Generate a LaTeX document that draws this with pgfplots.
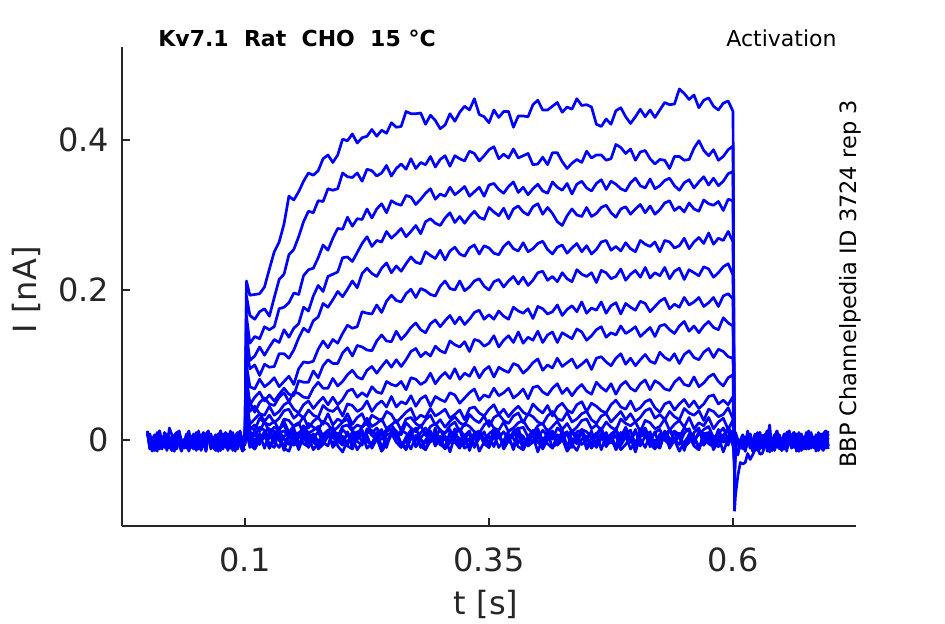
\documentclass[border=0pt]{standalone}
\usepackage{pgfplots}
\pgfplotsset{compat=1.18}
\usepackage{pgfplotstable}
\usepackage{fontspec}
\setmainfont{DejaVu Sans}
\setsansfont{DejaVu Sans}
\definecolor{axgray}{RGB}{38,38,38}

\pgfplotstableread[row sep=\\]{
t A B C D E F G H I J K L M N O P Q\\
0.100 0.002 -0.004 0.005 -0.006 0.001 0.003 -0.002 0.006 -0.005 0.000 0.004 -0.003 0.002 -0.006 0.005 -0.001 0.003\\
0.1015 0.212 0.192 0.165 0.142 0.122 0.100 0.085 0.075 0.065 0.055 0.048 0.042 0.036 0.030 0.025 0.020 0.018\\
0.105 0.193 0.166 0.129 0.106 0.095 0.071 0.047 0.050 0.038 0.021 0.017 0.015 0.009 0.006 0.003 -0.006 0.013\\
0.110 0.194 0.161 0.138 0.112 0.100 0.068 0.057 0.037 0.045 0.028 0.013 0.020 0.005 0.011 -0.012 -0.012 -0.006\\
0.115 0.195 0.171 0.135 0.124 0.086 0.081 0.064 0.050 0.035 0.035 0.029 0.011 0.017 -0.002 0.000 0.003 0.000\\
0.120 0.204 0.175 0.151 0.113 0.101 0.071 0.052 0.056 0.033 0.025 0.023 0.025 0.013 0.003 0.009 0.009 0.011\\
0.125 0.228 0.165 0.147 0.124 0.097 0.076 0.060 0.048 0.045 0.033 0.020 0.010 0.002 0.009 -0.005 -0.011 0.015\\
0.130 0.251 0.190 0.151 0.134 0.098 0.083 0.052 0.046 0.033 0.023 0.025 0.017 0.008 -0.004 -0.010 0.006 -0.002\\
0.135 0.264 0.214 0.175 0.130 0.115 0.071 0.061 0.057 0.038 0.029 0.013 0.013 0.015 0.010 0.012 0.000 -0.010\\
0.140 0.288 0.221 0.177 0.147 0.115 0.078 0.069 0.063 0.047 0.039 0.028 0.025 0.020 0.012 0.002 -0.011 0.005\\
0.145 0.325 0.247 0.183 0.137 0.109 0.085 0.061 0.051 0.051 0.041 0.026 0.010 0.005 0.004 -0.006 -0.015 0.009\\
0.150 0.320 0.254 0.196 0.149 0.120 0.074 0.059 0.064 0.041 0.029 0.018 0.019 0.011 -0.001 0.008 0.002 -0.007\\
0.155 0.331 0.271 0.194 0.155 0.136 0.095 0.079 0.062 0.036 0.035 0.021 0.023 0.007 0.008 -0.013 0.010 0.003\\
0.160 0.345 0.291 0.219 0.177 0.149 0.104 0.077 0.057 0.047 0.029 0.031 0.008 0.019 0.014 0.005 -0.005 0.012\\
0.165 0.356 0.305 0.227 0.172 0.144 0.103 0.077 0.056 0.052 0.040 0.016 0.022 0.009 0.001 0.010 -0.009 -0.005\\
0.170 0.353 0.303 0.229 0.192 0.159 0.105 0.092 0.069 0.042 0.033 0.025 0.017 0.013 0.008 -0.003 0.007 0.008\\
0.175 0.359 0.319 0.243 0.206 0.164 0.121 0.083 0.077 0.050 0.030 0.030 0.013 0.018 -0.002 -0.009 -0.012 -0.009\\
0.180 0.375 0.318 0.260 0.198 0.182 0.132 0.099 0.069 0.057 0.046 0.021 0.025 0.005 0.006 0.006 -0.006 0.000\\
0.185 0.380 0.335 0.253 0.218 0.177 0.123 0.107 0.069 0.047 0.040 0.035 0.021 0.010 0.012 0.012 0.005 0.013\\
0.190 0.370 0.333 0.269 0.221 0.187 0.134 0.102 0.082 0.057 0.038 0.020 0.011 0.017 0.003 -0.008 0.009 0.016\\
0.195 0.380 0.335 0.282 0.224 0.198 0.129 0.102 0.072 0.047 0.044 0.028 0.017 0.004 -0.001 0.009 -0.008 -0.003\\
0.200 0.401 0.356 0.281 0.243 0.191 0.142 0.116 0.078 0.054 0.032 0.024 0.024 0.018 0.014 0.003 -0.016 0.005\\
0.205 0.399 0.351 0.297 0.244 0.201 0.153 0.123 0.087 0.065 0.048 0.035 0.028 0.020 0.007 -0.008 -0.001 -0.006\\
0.210 0.408 0.350 0.285 0.238 0.212 0.149 0.112 0.093 0.068 0.046 0.021 0.014 0.012 0.002 -0.012 0.003 0.011\\
0.215 0.396 0.356 0.295 0.250 0.203 0.151 0.126 0.084 0.057 0.038 0.030 0.020 0.008 0.011 0.005 -0.013 -0.002\\
0.220 0.403 0.345 0.294 0.262 0.222 0.171 0.124 0.081 0.063 0.042 0.035 0.017 0.017 -0.003 0.013 -0.003 -0.007\\
0.225 0.405 0.361 0.308 0.271 0.229 0.169 0.120 0.093 0.058 0.052 0.020 0.029 0.023 0.009 -0.002 0.006 0.015\\
0.230 0.414 0.359 0.296 0.258 0.222 0.168 0.119 0.098 0.071 0.038 0.033 0.018 0.009 0.013 -0.006 -0.011 0.006\\
0.235 0.405 0.352 0.308 0.266 0.218 0.180 0.132 0.089 0.064 0.047 0.029 0.022 0.016 0.004 0.010 0.002 0.001\\
0.240 0.413 0.356 0.315 0.264 0.229 0.170 0.140 0.098 0.062 0.052 0.025 0.028 0.006 0.001 -0.009 -0.015 0.009\\
0.245 0.409 0.366 0.303 0.278 0.236 0.185 0.132 0.106 0.078 0.044 0.038 0.015 0.014 0.011 -0.003 -0.006 -0.010\\
0.250 0.423 0.352 0.319 0.269 0.223 0.193 0.131 0.097 0.074 0.058 0.034 0.020 0.020 0.015 0.008 0.007 0.012\\
0.255 0.417 0.362 0.315 0.275 0.232 0.186 0.145 0.107 0.072 0.044 0.023 0.026 0.011 0.002 0.012 0.010 0.008\\
0.260 0.418 0.368 0.313 0.282 0.225 0.184 0.134 0.098 0.078 0.051 0.030 0.013 0.007 0.013 -0.005 -0.009 -0.005\\
0.265 0.438 0.361 0.326 0.271 0.235 0.195 0.141 0.107 0.067 0.048 0.037 0.028 0.023 0.009 -0.013 -0.001 0.000\\
0.270 0.435 0.375 0.324 0.278 0.244 0.201 0.150 0.118 0.083 0.059 0.042 0.030 0.016 0.002 0.002 -0.012 0.013\\
0.275 0.435 0.362 0.314 0.286 0.237 0.190 0.156 0.122 0.081 0.045 0.027 0.022 0.011 -0.001 0.006 0.005 -0.009\\
0.280 0.436 0.370 0.321 0.275 0.235 0.202 0.147 0.111 0.074 0.055 0.033 0.017 0.020 0.010 -0.010 -0.008 0.003\\
0.285 0.421 0.367 0.329 0.291 0.251 0.199 0.143 0.117 0.078 0.059 0.030 0.027 0.006 0.016 0.000 -0.013 0.011\\
0.290 0.433 0.378 0.335 0.295 0.246 0.194 0.155 0.112 0.089 0.045 0.042 0.033 0.018 0.006 0.009 0.009 -0.003\\
0.295 0.426 0.364 0.321 0.289 0.242 0.192 0.160 0.125 0.075 0.058 0.032 0.020 0.022 0.003 -0.008 0.000 0.016\\
0.300 0.415 0.374 0.328 0.286 0.253 0.205 0.151 0.119 0.084 0.054 0.036 0.027 0.013 0.014 0.005 -0.005 -0.006\\
0.305 0.420 0.379 0.325 0.296 0.240 0.212 0.159 0.116 0.090 0.051 0.041 0.017 0.009 0.001 -0.012 0.003 0.005\\
0.310 0.435 0.365 0.337 0.303 0.252 0.202 0.166 0.132 0.082 0.063 0.029 0.025 0.019 0.005 -0.003 -0.016 -0.002\\
0.315 0.425 0.379 0.327 0.290 0.257 0.200 0.155 0.127 0.095 0.060 0.034 0.031 0.024 0.012 0.010 0.006 0.015\\
0.320 0.437 0.375 0.332 0.298 0.248 0.212 0.164 0.124 0.081 0.049 0.040 0.023 0.011 0.015 0.013 0.002 -0.007\\
0.325 0.445 0.372 0.338 0.289 0.245 0.199 0.154 0.131 0.089 0.056 0.027 0.019 0.022 0.004 -0.006 -0.011 0.006\\
0.330 0.440 0.385 0.325 0.298 0.256 0.204 0.161 0.118 0.085 0.063 0.042 0.034 0.018 -0.001 0.002 -0.006 0.012\\
0.335 0.455 0.382 0.331 0.305 0.260 0.212 0.170 0.134 0.097 0.068 0.044 0.027 0.011 0.009 -0.009 0.007 -0.010\\
0.340 0.434 0.372 0.337 0.297 0.248 0.215 0.173 0.132 0.083 0.053 0.036 0.023 0.009 0.012 0.008 -0.015 0.009\\
0.345 0.431 0.379 0.325 0.294 0.259 0.205 0.161 0.125 0.093 0.060 0.032 0.032 0.020 0.001 -0.005 -0.003 0.001\\
0.350 0.423 0.387 0.340 0.310 0.256 0.200 0.167 0.129 0.098 0.057 0.041 0.018 0.026 0.008 -0.010 0.005 -0.005\\
0.355 0.440 0.391 0.342 0.304 0.249 0.211 0.161 0.139 0.084 0.069 0.047 0.030 0.016 0.014 0.012 -0.009 0.013\\
0.360 0.430 0.375 0.334 0.299 0.247 0.214 0.172 0.124 0.097 0.059 0.034 0.034 0.013 0.003 0.003 0.010 0.008\\
0.365 0.438 0.381 0.329 0.309 0.258 0.204 0.165 0.133 0.093 0.063 0.041 0.026 0.024 0.011 -0.002 -0.012 -0.009\\
0.370 0.438 0.376 0.338 0.295 0.264 0.212 0.161 0.139 0.090 0.069 0.031 0.022 0.011 0.000 0.006 -0.001 0.000\\
0.375 0.417 0.388 0.344 0.308 0.255 0.218 0.177 0.130 0.102 0.056 0.039 0.032 0.016 0.006 -0.013 -0.008 0.011\\
0.380 0.432 0.376 0.330 0.312 0.252 0.208 0.172 0.144 0.099 0.061 0.045 0.036 0.023 0.015 0.009 0.009 0.016\\
0.385 0.432 0.379 0.337 0.304 0.263 0.217 0.169 0.129 0.089 0.068 0.037 0.023 0.026 0.017 0.005 -0.013 -0.006\\
0.390 0.431 0.382 0.327 0.300 0.251 0.206 0.175 0.137 0.095 0.055 0.033 0.035 0.015 0.004 -0.008 0.000 0.003\\
0.395 0.447 0.367 0.335 0.311 0.255 0.213 0.162 0.133 0.103 0.070 0.048 0.031 0.009 0.009 -0.003 0.006 -0.003\\
0.400 0.453 0.368 0.341 0.315 0.262 0.223 0.178 0.145 0.108 0.072 0.041 0.024 0.019 0.002 0.010 -0.016 0.015\\
0.405 0.440 0.377 0.332 0.301 0.265 0.225 0.175 0.130 0.093 0.064 0.036 0.021 0.022 0.013 -0.012 0.003 -0.002\\
0.410 0.440 0.367 0.329 0.310 0.254 0.213 0.168 0.140 0.100 0.060 0.046 0.032 0.011 0.005 0.000 -0.005 0.005\\
0.415 0.445 0.383 0.344 0.302 0.248 0.218 0.171 0.144 0.096 0.069 0.032 0.038 0.018 0.001 0.008 -0.011 0.012\\
0.420 0.450 0.383 0.337 0.291 0.257 0.211 0.180 0.130 0.109 0.075 0.044 0.028 0.025 0.016 -0.006 0.007 -0.007\\
0.425 0.437 0.371 0.333 0.286 0.260 0.223 0.166 0.143 0.098 0.062 0.049 0.026 0.014 0.010 0.013 0.002 0.000\\
0.430 0.444 0.362 0.342 0.299 0.249 0.215 0.174 0.139 0.103 0.069 0.040 0.037 0.022 0.007 -0.009 -0.015 0.009\\
0.435 0.441 0.369 0.328 0.308 0.256 0.211 0.179 0.135 0.108 0.059 0.036 0.024 0.011 0.012 0.002 -0.006 -0.010\\
0.440 0.455 0.374 0.341 0.300 0.262 0.227 0.171 0.148 0.096 0.068 0.047 0.028 0.017 -0.001 -0.005 0.005 0.011\\
0.445 0.446 0.370 0.345 0.298 0.251 0.221 0.184 0.144 0.101 0.074 0.051 0.035 0.026 0.014 0.012 0.010 0.013\\
0.450 0.447 0.385 0.336 0.310 0.259 0.218 0.169 0.133 0.107 0.065 0.038 0.038 0.028 0.011 -0.010 -0.012 0.001\\
0.455 0.444 0.376 0.332 0.298 0.248 0.223 0.176 0.139 0.094 0.061 0.049 0.027 0.015 0.003 0.003 -0.003 -0.006\\
0.460 0.421 0.380 0.342 0.302 0.254 0.210 0.173 0.147 0.109 0.077 0.045 0.022 0.020 0.006 0.009 -0.009 0.008\\
0.465 0.418 0.380 0.347 0.310 0.264 0.226 0.184 0.151 0.111 0.070 0.039 0.032 0.013 0.015 -0.013 0.009 0.016\\
0.470 0.428 0.373 0.334 0.313 0.266 0.223 0.169 0.137 0.104 0.065 0.036 0.035 0.024 0.000 0.006 -0.008 -0.005\\
0.475 0.421 0.375 0.345 0.303 0.253 0.215 0.179 0.143 0.099 0.075 0.047 0.024 0.017 0.008 -0.002 -0.001 0.006\\
0.480 0.439 0.394 0.341 0.297 0.258 0.218 0.183 0.140 0.109 0.061 0.053 0.031 0.013 0.013 -0.008 0.006 -0.009\\
0.485 0.443 0.390 0.335 0.308 0.252 0.228 0.168 0.152 0.115 0.073 0.044 0.038 0.028 0.004 0.010 -0.013 0.003\\
0.490 0.431 0.382 0.332 0.311 0.263 0.213 0.182 0.142 0.101 0.078 0.041 0.027 0.022 0.017 0.005 -0.006 0.012\\
0.495 0.422 0.388 0.343 0.301 0.255 0.221 0.177 0.146 0.109 0.069 0.052 0.035 0.019 0.002 -0.012 0.003 -0.002\\
0.500 0.431 0.373 0.349 0.308 0.251 0.226 0.173 0.151 0.099 0.065 0.039 0.024 0.024 0.009 -0.003 -0.016 -0.007\\
0.505 0.441 0.384 0.339 0.314 0.266 0.217 0.185 0.138 0.107 0.075 0.043 0.030 0.011 0.005 0.008 0.005 0.015\\
0.510 0.431 0.386 0.336 0.303 0.261 0.230 0.182 0.144 0.114 0.080 0.051 0.039 0.026 0.016 0.013 0.007 0.005\\
0.515 0.440 0.375 0.348 0.312 0.258 0.216 0.171 0.150 0.105 0.067 0.054 0.042 0.023 0.001 -0.009 -0.005 -0.003\\
0.520 0.430 0.368 0.335 0.301 0.264 0.223 0.178 0.138 0.102 0.079 0.043 0.029 0.015 0.010 0.000 -0.012 0.011\\
0.525 0.440 0.374 0.339 0.307 0.251 0.219 0.185 0.152 0.117 0.075 0.037 0.034 0.018 0.014 -0.006 0.002 -0.010\\
0.530 0.450 0.373 0.346 0.316 0.266 0.230 0.189 0.154 0.110 0.068 0.048 0.027 0.028 0.000 0.012 0.010 0.008\\
0.535 0.447 0.362 0.349 0.319 0.264 0.215 0.175 0.147 0.106 0.066 0.051 0.038 0.013 0.013 -0.005 -0.011 0.013\\
0.540 0.448 0.378 0.339 0.306 0.256 0.225 0.181 0.142 0.115 0.077 0.040 0.031 0.021 0.008 0.002 0.000 0.000\\
0.545 0.468 0.378 0.333 0.311 0.259 0.229 0.177 0.152 0.102 0.083 0.048 0.027 0.026 0.004 0.009 -0.015 -0.006\\
0.550 0.462 0.373 0.343 0.304 0.269 0.214 0.190 0.158 0.114 0.074 0.054 0.042 0.017 0.016 -0.010 -0.003 0.009\\
0.555 0.454 0.374 0.347 0.316 0.255 0.227 0.180 0.145 0.119 0.072 0.044 0.036 0.030 0.012 -0.003 0.006 0.015\\
0.560 0.460 0.389 0.336 0.308 0.264 0.223 0.184 0.152 0.110 0.084 0.052 0.033 0.015 0.001 0.006 -0.008 -0.005\\
0.565 0.443 0.399 0.344 0.305 0.270 0.219 0.190 0.143 0.107 0.071 0.042 0.039 0.023 0.007 -0.013 -0.013 0.012\\
0.570 0.453 0.386 0.351 0.320 0.262 0.231 0.178 0.152 0.117 0.076 0.048 0.026 0.019 0.014 0.008 0.009 0.006\\
0.575 0.456 0.379 0.340 0.315 0.276 0.228 0.183 0.158 0.122 0.084 0.058 0.041 0.030 0.018 0.010 -0.001 -0.005\\
0.580 0.445 0.387 0.349 0.313 0.261 0.217 0.190 0.150 0.110 0.088 0.060 0.038 0.015 0.003 -0.002 -0.009 -0.009\\
0.585 0.440 0.373 0.339 0.318 0.269 0.223 0.178 0.147 0.121 0.078 0.048 0.031 0.024 0.009 -0.009 0.005 0.008\\
0.590 0.449 0.378 0.345 0.306 0.266 0.231 0.192 0.163 0.118 0.072 0.053 0.034 0.029 0.005 0.005 -0.016 0.016\\
0.595 0.452 0.387 0.355 0.321 0.278 0.235 0.195 0.156 0.111 0.083 0.047 0.043 0.014 0.017 0.013 0.002 0.001\\
0.600 0.438 0.392 0.358 0.319 0.264 0.220 0.188 0.152 0.109 0.087 0.058 0.028 0.027 0.006 -0.008 0.007 -0.003\\
0.6015 -0.095 -0.085 -0.075 -0.068 -0.060 -0.055 -0.050 -0.045 -0.040 -0.035 -0.030 -0.028 -0.025 -0.022 -0.020 -0.018 -0.015\\
}\pulse

\pgfplotstableread[row sep=\\]{
t Y Z\\
0.100 -0.002 0.004\\
0.1015 0.015 0.012\\
0.105 -0.010 -0.008\\
0.110 0.001 -0.001\\
0.115 -0.006 0.008\\
0.120 0.011 -0.011\\
0.125 -0.011 0.010\\
0.130 0.002 0.012\\
0.135 0.008 0.000\\
0.140 -0.014 -0.007\\
0.145 0.005 0.007\\
0.150 -0.003 0.016\\
0.155 -0.009 -0.006\\
0.160 0.009 0.005\\
0.165 0.004 -0.010\\
0.170 -0.013 0.002\\
0.175 -0.004 0.011\\
0.180 0.007 -0.003\\
0.185 0.013 -0.008\\
0.190 -0.010 0.014\\
0.195 -0.001 0.004\\
0.200 -0.007 -0.004\\
0.205 0.011 0.010\\
0.210 -0.006 -0.011\\
0.215 0.001 0.007\\
0.220 0.008 0.012\\
0.225 -0.011 -0.001\\
0.230 -0.004 -0.007\\
0.235 0.005 0.008\\
0.240 -0.014 0.014\\
0.245 0.007 -0.006\\
0.250 0.009 0.011\\
0.255 -0.003 0.005\\
0.260 -0.010 -0.006\\
0.265 0.004 -0.010\\
0.270 0.013 0.007\\
0.275 -0.009 0.016\\
0.280 0.002 0.000\\
0.285 -0.013 -0.004\\
0.290 -0.001 0.012\\
0.295 0.008 -0.007\\
0.300 -0.006 -0.001\\
0.305 -0.011 0.010\\
0.310 0.011 0.014\\
0.315 0.001 -0.003\\
0.320 -0.007 -0.011\\
0.325 0.007 0.004\\
0.330 -0.014 0.008\\
0.335 0.004 -0.008\\
0.340 0.009 0.002\\
0.345 -0.004 0.011\\
0.350 -0.010 -0.006\\
0.355 0.005 0.007\\
0.360 0.011 -0.010\\
0.365 -0.009 -0.001\\
0.370 0.008 0.012\\
0.375 0.002 0.016\\
0.380 -0.009 -0.004\\
0.385 -0.013 0.004\\
0.390 0.004 -0.007\\
0.395 0.013 0.010\\
0.400 -0.003 -0.003\\
0.405 -0.007 -0.008\\
0.410 0.009 0.014\\
0.415 -0.010 0.005\\
0.420 -0.004 0.000\\
0.425 0.007 0.008\\
0.430 0.011 -0.011\\
0.435 -0.006 0.011\\
0.440 -0.014 0.007\\
0.445 0.001 -0.006\\
0.450 0.005 -0.001\\
0.455 -0.011 0.012\\
0.460 -0.001 -0.010\\
0.465 0.008 0.002\\
0.470 -0.009 0.010\\
0.475 0.004 -0.004\\
0.480 -0.013 0.016\\
0.485 -0.004 -0.007\\
0.490 0.009 0.004\\
0.495 0.013 -0.003\\
0.500 -0.007 0.014\\
0.505 0.001 -0.008\\
0.510 -0.010 0.005\\
0.515 0.007 0.011\\
0.520 -0.006 -0.011\\
0.525 -0.011 0.008\\
0.530 0.011 0.000\\
0.535 0.002 -0.006\\
0.540 -0.003 0.012\\
0.545 0.005 0.007\\
0.550 -0.014 -0.010\\
0.555 0.008 -0.001\\
0.560 0.004 0.010\\
0.565 -0.009 0.016\\
0.570 -0.004 -0.007\\
0.575 0.009 0.002\\
0.580 -0.013 -0.004\\
0.585 -0.001 0.014\\
0.590 0.007 -0.003\\
0.595 -0.007 0.004\\
0.600 0.013 0.011\\
0.6015 -0.013 -0.012\\
}\pulsez

\pgfplotstableread[row sep=\\]{
t R S U V W X\\
0.0000 0.007 0.012 0.010 0.006 0.010 0.012\\
0.0025 0.001 -0.008 -0.012 0.008 -0.007 -0.011\\
0.0050 -0.010 0.000 0.001 -0.004 -0.015 -0.002\\
0.0075 -0.014 -0.011 0.007 -0.011 0.000 -0.008\\
0.0100 0.003 0.006 -0.015 0.003 0.004 0.010\\
0.0125 0.012 -0.007 0.004 0.012 -0.012 -0.007\\
0.0150 -0.004 -0.012 -0.004 -0.010 -0.002 0.000\\
0.0175 -0.008 0.010 -0.010 0.001 0.007 0.007\\
0.0200 0.008 0.001 0.008 -0.014 -0.010 -0.012\\
0.0225 -0.011 -0.004 0.003 0.016 0.003 -0.005\\
0.0250 -0.005 0.004 -0.014 0.007 -0.014 0.004\\
0.0275 0.006 -0.015 -0.005 -0.007 -0.005 -0.015\\
0.0300 0.010 0.007 0.006 -0.012 0.008 0.006\\
0.0325 -0.007 0.003 0.012 0.010 0.012 0.008\\
0.0350 -0.015 -0.010 -0.011 0.000 -0.008 -0.004\\
0.0375 0.000 -0.005 -0.002 -0.008 0.000 -0.011\\
0.0400 0.004 0.008 -0.008 0.006 -0.011 0.003\\
0.0425 -0.012 -0.014 0.010 -0.015 0.006 0.012\\
0.0450 -0.002 -0.002 -0.007 0.003 -0.007 -0.010\\
0.0475 0.007 0.006 0.000 0.008 -0.012 0.001\\
0.0500 -0.010 -0.008 0.007 -0.005 0.010 -0.014\\
0.0525 0.003 0.012 -0.012 -0.011 0.001 -0.002\\
0.0550 -0.014 -0.011 -0.005 0.004 -0.004 0.007\\
0.0575 -0.005 0.000 0.004 0.010 0.004 -0.007\\
0.0600 0.008 -0.007 -0.015 -0.010 -0.015 -0.012\\
0.0625 0.012 0.010 0.006 0.007 0.007 0.010\\
0.0650 -0.008 -0.012 0.008 0.001 0.003 0.000\\
0.0675 0.000 0.001 -0.004 -0.010 -0.010 -0.008\\
0.0700 -0.011 0.007 -0.011 -0.014 -0.005 0.006\\
0.0725 0.006 -0.015 0.003 0.003 0.008 -0.015\\
0.0750 -0.007 0.004 0.012 0.012 -0.014 0.003\\
0.0775 -0.012 -0.004 -0.010 -0.004 -0.002 0.008\\
0.0800 0.010 -0.010 0.001 -0.008 0.006 -0.005\\
0.0825 0.001 0.008 -0.014 0.008 -0.008 -0.011\\
0.0850 -0.004 0.003 -0.002 -0.011 0.012 0.004\\
0.0875 0.004 -0.014 0.007 -0.005 -0.011 0.010\\
0.0900 -0.015 -0.005 -0.007 0.006 0.000 -0.010\\
0.0925 0.007 0.006 -0.012 0.010 -0.007 0.007\\
0.0950 0.003 0.012 0.010 -0.007 0.010 0.001\\
0.0975 -0.010 -0.011 0.000 -0.015 -0.012 -0.010\\
0.1000 -0.005 -0.002 -0.008 0.000 0.001 -0.014\\
}\pre

\pgfplotstableread[row sep=\\]{
t R S U V W X\\
0.6015 -0.095 -0.060 -0.040 -0.030 -0.050 -0.035\\
0.6025 -0.074 -0.007 0.010 0.010 -0.019 0.000\\
0.6050 -0.047 -0.020 -0.007 0.000 -0.016 -0.006\\
0.6075 -0.030 -0.002 0.000 -0.008 -0.004 -0.011\\
0.6100 -0.032 0.006 0.007 0.006 -0.012 0.006\\
0.6125 -0.030 -0.008 -0.012 -0.015 0.004 -0.015\\
0.6150 -0.018 0.012 -0.005 0.003 0.003 0.003\\
0.6175 -0.026 -0.011 0.004 0.008 -0.010 0.008\\
0.6200 -0.020 0.000 -0.015 -0.005 -0.005 -0.005\\
0.6225 -0.013 -0.007 0.006 -0.011 0.008 -0.011\\
0.6250 -0.009 0.010 0.008 0.004 -0.014 0.004\\
0.6275 -0.019 -0.012 -0.004 0.010 -0.002 0.010\\
0.6300 -0.018 0.001 -0.011 -0.010 0.006 -0.010\\
0.6325 -0.008 0.007 0.003 0.007 -0.008 0.007\\
0.6350 -0.002 -0.015 0.012 0.001 0.012 0.001\\
0.6375 -0.016 0.004 -0.010 0.020 -0.011 -0.010\\
0.6400 -0.002 -0.004 0.001 -0.014 0.000 -0.014\\
0.6425 0.007 -0.010 -0.014 0.003 -0.007 0.003\\
0.6450 -0.010 0.008 -0.002 0.012 0.010 0.012\\
0.6475 0.003 0.003 0.007 -0.004 -0.012 -0.004\\
0.6500 -0.014 -0.014 -0.007 -0.008 0.001 -0.008\\
0.6525 -0.005 -0.005 -0.012 0.008 0.007 0.008\\
0.6550 0.008 0.006 0.010 -0.011 -0.015 -0.011\\
0.6575 0.012 0.012 0.000 -0.005 0.004 -0.005\\
0.6600 -0.008 -0.011 -0.008 0.006 -0.004 0.006\\
0.6625 0.000 -0.002 0.006 0.010 -0.010 0.010\\
0.6650 -0.011 -0.008 -0.015 -0.007 0.008 -0.007\\
0.6675 0.006 0.010 0.003 -0.015 0.003 -0.015\\
0.6700 -0.007 -0.007 0.008 0.000 -0.014 0.000\\
0.6725 -0.012 0.000 -0.005 0.004 -0.005 0.004\\
0.6750 0.010 0.007 -0.011 -0.012 0.006 -0.012\\
0.6775 0.001 -0.012 0.004 -0.002 0.012 -0.002\\
0.6800 -0.004 -0.005 0.010 0.007 -0.011 0.007\\
0.6825 0.004 0.004 -0.010 -0.010 -0.002 -0.010\\
0.6850 -0.015 -0.006 0.007 0.003 -0.008 0.003\\
0.6875 0.007 0.006 0.001 -0.014 0.010 -0.014\\
0.6900 0.003 0.008 -0.010 -0.005 -0.007 -0.005\\
0.6925 -0.010 -0.004 -0.014 0.008 0.000 0.008\\
0.6950 -0.005 -0.011 0.003 0.012 0.007 0.012\\
0.6975 0.008 0.003 0.012 -0.008 -0.012 -0.008\\
}\post

\begin{document}
\begin{tikzpicture}
\useasboundingbox (0,0) rectangle (472.5pt,312pt);
\begin{axis}[
  at={(61pt,49pt)}, anchor=south west,
  scale only axis, width=367pt, height=239.5pt,
  xmin=-0.026, xmax=0.726, ymin=-0.1147, ymax=0.524,
  axis x line*=bottom, axis y line*=left,
  axis line style={axgray, line width=0.65pt, -},
  xtick={0.1,0.35,0.6}, xticklabels={0.1,0.35,0.6},
  ytick={0,0.2,0.4}, yticklabels={0,0.2,0.4},
  tick align=inside, major tick length=3.75pt,
  tick style={axgray, line width=0.65pt},
  ticklabel style={font=\fontsize{16}{19}\selectfont, text=axgray},
  xticklabel style={yshift=-7.5pt},
  yticklabel style={xshift=-3pt},
  /pgf/number format/assume math mode=true,
  clip mode=individual,
]
\foreach \c in {A,B,C,D,E,F,G,H,I,J,K,L,M,N,O,P,Q}{
  \addplot[blue, no markers, line width=1.35pt, line join=round] table[x=t,y=\c] {\pulse};
}
\foreach \c in {Y,Z}{
  \addplot[blue, no markers, line width=1.35pt, line join=round] table[x=t,y=\c] {\pulsez};
}
\foreach \c in {R,S,U,V,W,X}{
  \addplot[blue, no markers, line width=1.35pt, line join=round] table[x=t,y=\c] {\pre};
  \addplot[blue, no markers, line width=1.35pt, line join=round] table[x=t,y=\c] {\post};
}
\node[anchor=base, inner sep=0pt, font=\fontsize{16}{19}\selectfont, text=axgray] at (axis description cs:0.496,-0.184) {t [s]};
\node[rotate=90, anchor=base, inner sep=0pt, font=\fontsize{16}{19}\selectfont, text=axgray] at (axis description cs:-0.116,0.493) {I [nA]};
\node[anchor=base west, inner sep=0pt, font=\bfseries\fontsize{11}{13}\selectfont] at (axis description cs:0.049,1.0) {Kv7.1\ \ Rat\ \ CHO\ \ 15 °C};
\node[anchor=base east, inner sep=0pt, font=\fontsize{11}{13}\selectfont] at (axis description cs:0.974,1.0) {Activation};
\node[rotate=90, anchor=base west, inner sep=0pt, font=\fontsize{11.25}{13}\selectfont] at (axis description cs:1.0,0.121) {BBP Channelpedia ID 3724 rep 3};
\end{axis}
\end{tikzpicture}
\end{document}
